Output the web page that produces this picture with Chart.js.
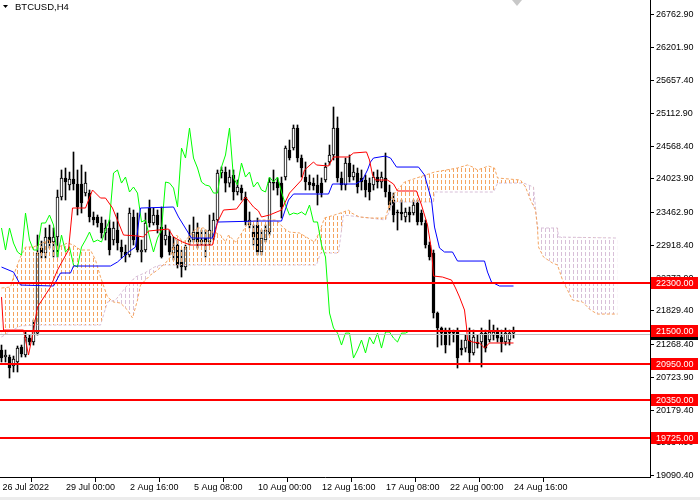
<!DOCTYPE html>
<html>
<head>
<meta charset="utf-8">
<title>BTCUSD,H4</title>
<script src="https://cdn.jsdelivr.net/npm/chart.js@4.4.0/dist/chart.umd.min.js"></script>
<style>
  html, body { margin: 0; padding: 0; background: #fff; }
  #wrap { width: 700px; height: 500px; }
</style>
</head>
<body>
<div id="wrap"><canvas id="chart" width="700" height="500"></canvas></div>
<script>
// BTCUSD H4 candles + Ichimoku (bar index 0 = 26 Jul 08:00)
const symbol = 'BTCUSD,H4';

const opens = [
  21179, 21063, 21063, 20913, 20980, 21229, 21096, 21378, 21312, 21461,
  22874, 22791, 23057, 22974, 23057, 23722, 24038, 23921, 24021, 23938,
  23938, 23788, 23788, 23390, 23390, 23290, 23124, 23207, 23007, 23173,
  22891, 22808, 22758, 23390, 23057, 22808, 22841, 23539, 23290, 23423,
  23223, 23007, 23073, 22791, 22924, 22642, 22559, 22974, 23007, 23140,
  22974, 23040, 22974, 23057, 23340, 24121, 24137, 23954, 24088, 23805,
  23871, 23722, 23257, 23140, 23257, 22808, 23007, 23140, 23971, 23971,
  23954, 24054, 24503, 24536, 24869, 24370, 24054, 23971, 23954, 23921,
  23954, 24004, 24304, 24420, 24869, 24038, 23921, 24287, 24054, 24121,
  24038, 24004, 23954, 23921, 24054, 23971, 24038, 23805, 23672, 23473,
  23473, 23390, 23473, 23456, 23622, 23456, 23290, 22924, 22791, 21794,
  21545, 21511, 21478, 21478, 21478, 21212, 21212, 21345, 21130, 21312,
  21312, 21461, 21345, 21428, 21478, 21395, 21312, 21345, 21461
];
const highs = [
  21262, 21179, 21096, 21079, 21246, 21262, 21478, 21428, 21678, 23090,
  22990, 23206, 23256, 23207, 23838, 24171, 24204, 24137, 24470, 24171,
  24254, 24137, 23838, 23473, 23423, 23390, 23340, 23340, 23307, 23456,
  23007, 22924, 23539, 23506, 23456, 23007, 23456, 23672, 23539, 23506,
  23556, 23257, 23173, 23057, 23007, 22841, 22924, 23257, 23390, 23290,
  23173, 23173, 23423, 23456, 24171, 24221, 24221, 24171, 24171, 24004,
  23921, 23805, 23473, 23257, 23373, 23173, 23257, 24038, 24171, 24038,
  24054, 24570, 24669, 24919, 24919, 24420, 24304, 24088, 24038, 24088,
  24038, 24287, 24586, 25218, 25052, 24137, 24370, 24420, 24254, 24204,
  24171, 24088, 24038, 24137, 24171, 24137, 24453, 23921, 23788, 23506,
  23672, 23539, 23556, 23672, 23672, 23506, 23340, 22974, 22841, 21811,
  21561, 21545, 21545, 21511, 21545, 21345, 21428, 21545, 21511, 21428,
  21545, 21511, 21678, 21594, 21545, 21511, 21545, 21511, 21561
];
const lows = [
  20980, 20980, 20714, 20814, 20814, 21063, 21063, 21262, 21262, 21428,
  22708, 22708, 22874, 22725, 22725, 23672, 23672, 23838, 23838, 23423,
  23456, 23739, 23307, 23257, 23223, 23040, 23007, 22758, 22924, 22841,
  22708, 22642, 22725, 22924, 22808, 22642, 22808, 23223, 23257, 23124,
  22708, 22924, 22758, 22675, 22542, 22392, 22509, 22924, 22974, 22874,
  22924, 22725, 22924, 23007, 23307, 24038, 23805, 23888, 23672, 23755,
  23672, 23257, 23207, 22924, 22758, 22758, 22974, 23090, 23838, 23755,
  23373, 24004, 24337, 24503, 24304, 24054, 23838, 23838, 23838, 23589,
  23722, 23971, 24254, 24337, 23971, 23838, 23838, 23971, 24004, 23788,
  23838, 23722, 23672, 23838, 23871, 23871, 23722, 23506, 23307, 23173,
  23340, 23307, 23307, 23423, 23257, 23257, 22874, 22675, 21711, 21229,
  21262, 21130, 21262, 21312, 20880, 21096, 21146, 20980, 21096, 21212,
  20897, 21146, 21312, 21345, 21312, 21146, 21262, 21262, 21378
];
const closes = [
  21046, 21096, 20880, 21030, 21212, 21113, 21395, 21312, 21511, 22791,
  22791, 23057, 22957, 23057, 23722, 24038, 23971, 24021, 23938, 23556,
  23622, 23954, 23390, 23340, 23290, 23124, 23207, 22841, 23207, 22957,
  22808, 22758, 23456, 23007, 22841, 22841, 23290, 23290, 23423, 23257,
  22725, 23090, 22808, 22891, 22592, 22559, 22891, 23007, 23140, 22974,
  23007, 22974, 23173, 23340, 24121, 24171, 23954, 24054, 23805, 23888,
  23788, 23307, 23340, 23057, 22808, 23040, 23173, 23971, 23954, 23871,
  23556, 24536, 24370, 24869, 24370, 24204, 23971, 23921, 23905, 23788,
  23788, 24221, 24420, 24869, 24038, 23921, 24287, 24054, 24137, 23888,
  23971, 23838, 23805, 24054, 23971, 24054, 23805, 23589, 23423, 23456,
  23440, 23473, 23423, 23589, 23307, 23307, 22924, 22725, 21794, 21545,
  21461, 21262, 21461, 21461, 21046, 21179, 21345, 21130, 21395, 21279,
  21461, 21212, 21478, 21478, 21378, 21312, 21461, 21461, 21495
];

// green lagging line, one value per bar from bar 0
const chikou = [
  23207, 22841, 23207, 22957, 22808, 22758, 23456, 23007, 22841, 22841,
  23290, 23290, 23423, 23257, 22725, 23090, 22808, 22891, 22592, 22559,
  22891, 23007, 23140, 22974, 23007, 22974, 23173, 23340, 24121, 24171,
  23954, 24054, 23805, 23888, 23788, 23307, 23340, 23057, 22808, 23040,
  23173, 23971, 23954, 23871, 23556, 24536, 24370, 24869, 24370, 24204,
  23971, 23921, 23905, 23788, 23788, 24221, 24420, 24869, 24038, 23921,
  24287, 24054, 24137, 23888, 23971, 23838, 23805, 24054, 23971, 24054,
  23805, 23589, 23423, 23456, 23440, 23473, 23423, 23589, 23307, 23307,
  22924, 22725, 21794, 21545, 21461, 21262, 21461, 21461, 21046, 21179,
  21345, 21130, 21395, 21279, 21461, 21212, 21478, 21478, 21378, 21312,
  21461, 21461, 21495
];

// [bar, price] vertices where the line changes direction
const tenkan = [
  [0, 22060], [0.5, 21511], [5.5, 21511], [6.75, 21096], [8, 21511], [9, 21894], [12.25, 22226],
  [14, 22509], [16.75, 22841], [17.75, 23539], [21, 23539], [22.75, 23838], [24.75, 23705],
  [26, 23705], [27.75, 23539], [30.5, 23090], [34, 23074], [35.5, 23057], [36.75, 23157],
  [41.75, 23190], [43, 23057], [45.25, 22974], [47.25, 22924], [52.75, 22924], [54, 23306],
  [55.5, 23506], [58.75, 23523], [61, 23722], [63, 23556], [64.25, 23489], [65, 23390],
  [67, 23423], [70, 23506], [72, 23788], [75, 24004], [75.75, 24171], [78, 24304], [78.75, 24254],
  [81.75, 24237], [83, 24387], [86.75, 24387], [88, 24453], [91.25, 24470], [92, 24337],
  [92.75, 24088], [93.5, 24004], [96.5, 24004], [98, 23938], [99, 23822], [103.75, 23822],
  [105, 23589], [106.5, 23257], [107.5, 22841], [108, 22409], [110.25, 22392], [112.5, 22342],
  [113.5, 22210], [114.5, 22060], [115.75, 21844], [116.25, 21561], [116.5, 21345],
  [117.75, 21312], [119.5, 21296], [120.75, 21212], [122, 21296], [128, 21296]
];
const kijun = [
  [0, 22558], [3, 22475], [4.75, 22259], [13, 22243], [14.75, 22459], [17.25, 22459], [18, 22575],
  [27.25, 22575], [29, 22642], [31.75, 22808], [33.5, 22891], [34.75, 23539], [43, 23556],
  [44.25, 23390], [47.5, 23040], [52.75, 23040], [54, 23306], [64.25, 23323], [70, 23323],
  [71.75, 23672], [73, 23772], [81.75, 23772], [82.75, 23938], [88.5, 23938], [90.25, 24004],
  [91.5, 24171], [92.25, 24304], [93, 24370], [96, 24403], [97.25, 24370], [98.75, 24220],
  [104.25, 24220], [105.75, 24088], [107.5, 23672], [108.25, 23223], [109.5, 22874],
  [110.75, 22808], [112.75, 22808], [114, 22658], [120.75, 22658], [121.5, 22475],
  [122.5, 22309], [124.5, 22243], [128, 22243]
];
const spanA = [
  [0, 22210], [2.25, 22226], [3.5, 22509], [4.75, 22725], [6, 22891], [8, 22891], [10.25, 22957],
  [11.75, 23007], [13, 22957], [14.25, 22891], [16.5, 22957], [18, 22924], [19.75, 22841],
  [22.25, 22841], [23.5, 22675], [24.75, 22393], [26.5, 22060], [28, 21977], [29.75, 21960],
  [31.5, 21844], [32.75, 21711], [34, 22010], [34.75, 22259], [37.25, 22426], [39, 22509],
  [41, 22625], [42.25, 22725], [43.75, 23090], [45.5, 22974], [47.25, 23090], [48.75, 23207],
  [50.5, 23207], [51.75, 23140], [53.25, 23140], [54.75, 23090], [56, 22974], [56.75, 23090],
  [58.5, 22974], [59.75, 23090], [61.75, 23306], [64.25, 23340], [68.75, 23340], [70.5, 23207],
  [72, 23140], [74.5, 23124], [78.25, 22974], [79.5, 23140], [80.75, 23373], [83.25, 23423],
  [85.5, 23473], [86.75, 23506], [87.5, 23456], [89.5, 23390], [92.5, 23373], [96, 23373],
  [97.25, 23672], [98.25, 23788], [100.75, 23971], [108.25, 24137], [114, 24204], [116.5, 24254],
  [117.75, 24221], [119, 24171], [121.75, 24237], [123.25, 24204], [124, 24038], [129.75, 24004],
  [131, 23888], [132.25, 23672], [133.5, 23506], [134, 23207], [134.25, 22891], [135.5, 22725],
  [137.75, 22625], [139, 22592], [140.25, 22342], [141.5, 22176], [142.75, 22010],
  [145.25, 21977], [147.25, 21844], [149, 21777], [154, 21777]
];
const spanB = [
  [0, 21395], [1.5, 21461], [2.75, 21511], [4.75, 21578], [8.5, 21594], [24.75, 21594],
  [25.5, 21761], [26.5, 21977], [28.5, 22010], [31.5, 22259], [33.5, 22393], [35.75, 22459],
  [38.25, 22558], [39.75, 22592], [78.75, 22592], [79.75, 22791], [84.25, 22791], [85.5, 23423],
  [96, 23340], [98, 23639], [108, 23639], [108.25, 23805], [123, 23805], [124, 23954],
  [130.5, 23954], [133, 23888], [134, 23207], [139, 23207], [139.25, 23057], [154, 23040]
];

const yTicks = [26762.9, 26201.9, 25657.4, 25112.9, 24568.4, 24023.9, 23462.9, 22918.4,
  22373.9, 21829.4, 21268.4, 20723.9, 20179.4, 19634.9, 19090.4];
const xTickBars = [-0.375, 15.5, 31.5, 47.5, 63.5, 79.5, 95.5, 111.5, 127.5];
const xTickLabels = ['26 Jul 2022', '29 Jul 00:00', '2 Aug 16:00', '5 Aug 08:00', '10 Aug 00:00',
  '12 Aug 16:00', '17 Aug 08:00', '22 Aug 00:00', '24 Aug 16:00'];
const levels = [22300, 21500, 20950, 20350, 19725];
const bidPrice = 21441.7;

const FONT = '"Liberation Sans", Arial, sans-serif';
const canvas = document.getElementById('chart');
const mainCtx = canvas.getContext('2d');

// vertical dotted hatch, one stroke per bar column (bars sit on x = 1 + 4n)
function hatch(color) {
  const c = document.createElement('canvas');
  c.width = 4; c.height = 6;
  const g = c.getContext('2d');
  g.fillStyle = color;
  g.fillRect(1, 0, 1, 4);
  return mainCtx.createPattern(c, 'repeat');
}
const orangeHatch = hatch('#f4a460');
const thistleHatch = hatch('#d8bfd8');

const toXY = pts => pts.map(p => ({ x: p[0], y: p[1] }));

const wickData = highs.map((h, i) => ({ x: i, y: [lows[i], h] }));
const bodyData = opens.map((o, i) => ({ x: i, y: [o, closes[i]] }));
const bodyFill = opens.map((o, i) => closes[i] >= o ? '#ffffff' : '#000000');

const overlay = {
  id: 'overlay',
  afterDatasetsDraw(chart) {
    const { ctx, chartArea: a, scales: { y } } = chart;
    ctx.save();
    ctx.beginPath();
    ctx.rect(a.left, a.top, a.right - a.left, a.bottom - a.top);
    ctx.clip();
    const by = Math.round(y.getPixelForValue(bidPrice)) + 0.5;
    ctx.strokeStyle = '#c0c0c0';
    ctx.lineWidth = 1;
    ctx.beginPath(); ctx.moveTo(a.left, by); ctx.lineTo(a.right, by); ctx.stroke();
    ctx.strokeStyle = '#ff0000';
    ctx.lineWidth = 2;
    levels.forEach(v => {
      const p = Math.round(y.getPixelForValue(v));
      ctx.beginPath(); ctx.moveTo(a.left, p); ctx.lineTo(a.right, p); ctx.stroke();
    });
    ctx.restore();
  },
  afterDraw(chart) {
    const { ctx, chartArea: a, scales: { y } } = chart;
    ctx.save();
    ctx.font = '9px ' + FONT;
    ctx.textBaseline = 'middle';
    ctx.textAlign = 'left';
    const tag = (v, bg) => {
      const p = Math.round(y.getPixelForValue(v));
      ctx.fillStyle = bg;
      ctx.fillRect(a.right + 1, p - 6, 47, 12);
      ctx.fillStyle = '#ffffff';
      ctx.fillText(v.toFixed(2), a.right + 6, p + 0.5);
    };
    tag(bidPrice, '#000000');
    levels.forEach(v => tag(v, '#ff0000'));

    // symbol caption with the little menu arrow
    ctx.fillStyle = '#000';
    ctx.beginPath(); ctx.moveTo(3, 5); ctx.lineTo(8, 5); ctx.lineTo(5.5, 8); ctx.closePath(); ctx.fill();
    ctx.font = '9.5px ' + FONT;
    ctx.fillText(symbol, 15, 7.5);

    // chart shift marker
    ctx.fillStyle = '#c8c8c8';
    ctx.beginPath(); ctx.moveTo(512, 0); ctx.lineTo(522, 0); ctx.lineTo(517, 6); ctx.closePath(); ctx.fill();

    ctx.fillStyle = '#ececec';
    ctx.fillRect(0, 497, 700, 3);
    ctx.restore();
  }
};

new Chart(canvas, {
  type: 'bar',
  data: {
    datasets: [
      {
        type: 'line', label: 'Senkou A', data: toXY(spanA), order: 3,
        borderColor: '#f4a460', backgroundColor: orangeHatch, borderWidth: 1, borderDash: [3, 2], pointRadius: 0,
        fill: { target: '+1', above: orangeHatch, below: thistleHatch }
      },
      {
        type: 'line', label: 'Senkou B', data: toXY(spanB), order: 4,
        borderColor: '#d8bfd8', borderWidth: 1, borderDash: [3, 2], pointRadius: 0, fill: false
      },
      {
        type: 'line', label: 'Tenkan', data: toXY(tenkan), order: 0,
        borderColor: '#ff0000', borderWidth: 1, pointRadius: 0, fill: false
      },
      {
        type: 'line', label: 'Kijun', data: toXY(kijun), order: 1,
        borderColor: '#0000ff', borderWidth: 1, pointRadius: 0, fill: false
      },
      {
        type: 'line', label: 'Chikou', data: chikou.map((v, i) => ({ x: i, y: v })), order: 2,
        borderColor: '#00ff00', borderWidth: 1, pointRadius: 0, fill: false
      },
      {
        label: 'Body', data: bodyData, order: 5, grouped: false,
        backgroundColor: bodyFill, borderColor: '#000', borderWidth: 1, borderSkipped: false,
        barPercentage: 1, categoryPercentage: 1, maxBarThickness: 3
      },
      {
        label: 'Wick', data: wickData, order: 6, grouped: false,
        backgroundColor: '#000', borderWidth: 0,
        barPercentage: 1, categoryPercentage: 1, maxBarThickness: 1
      }
    ]
  },
  options: {
    responsive: false,
    animation: false,
    devicePixelRatio: 1,
    events: [],
    layout: { padding: 0 },
    elements: { line: { tension: 0 } },
    plugins: { legend: { display: false }, tooltip: { enabled: false }, title: { display: false } },
    scales: {
      x: {
        type: 'linear', position: 'bottom', min: -0.375, max: 162.125, offset: false,
        grid: {
          drawOnChartArea: false, tickLength: 5,
          tickColor: c => (c.index === 0 ? 'rgba(0,0,0,0)' : '#000')
        },
        border: { color: '#000', width: 1 },
        ticks: {
          autoSkip: false, maxRotation: 0, align: 'start', padding: 0, color: '#000',
          font: { family: FONT, size: 9 },
          callback: (v, i) => ' ' + xTickLabels[i]
        },
        afterBuildTicks: s => { s.ticks = xTickBars.map(v => ({ value: v })); },
        afterFit: s => { s.height = 23; s.paddingLeft = 0; s.paddingRight = 0; }
      },
      y: {
        type: 'linear', position: 'right', min: 19069, max: 26996,
        grid: { drawOnChartArea: false, tickLength: 4, tickColor: '#000' },
        border: { color: '#000', width: 1 },
        ticks: {
          autoSkip: false, padding: 2, color: '#000',
          font: { family: FONT, size: 9 },
          callback: v => v.toFixed(2)
        },
        afterBuildTicks: s => { s.ticks = yTicks.map(v => ({ value: v })); },
        afterFit: s => { s.width = 50; s.paddingTop = 0; s.paddingBottom = 0; }
      }
    }
  },
  plugins: [overlay]
});
</script>
</body>
</html>
